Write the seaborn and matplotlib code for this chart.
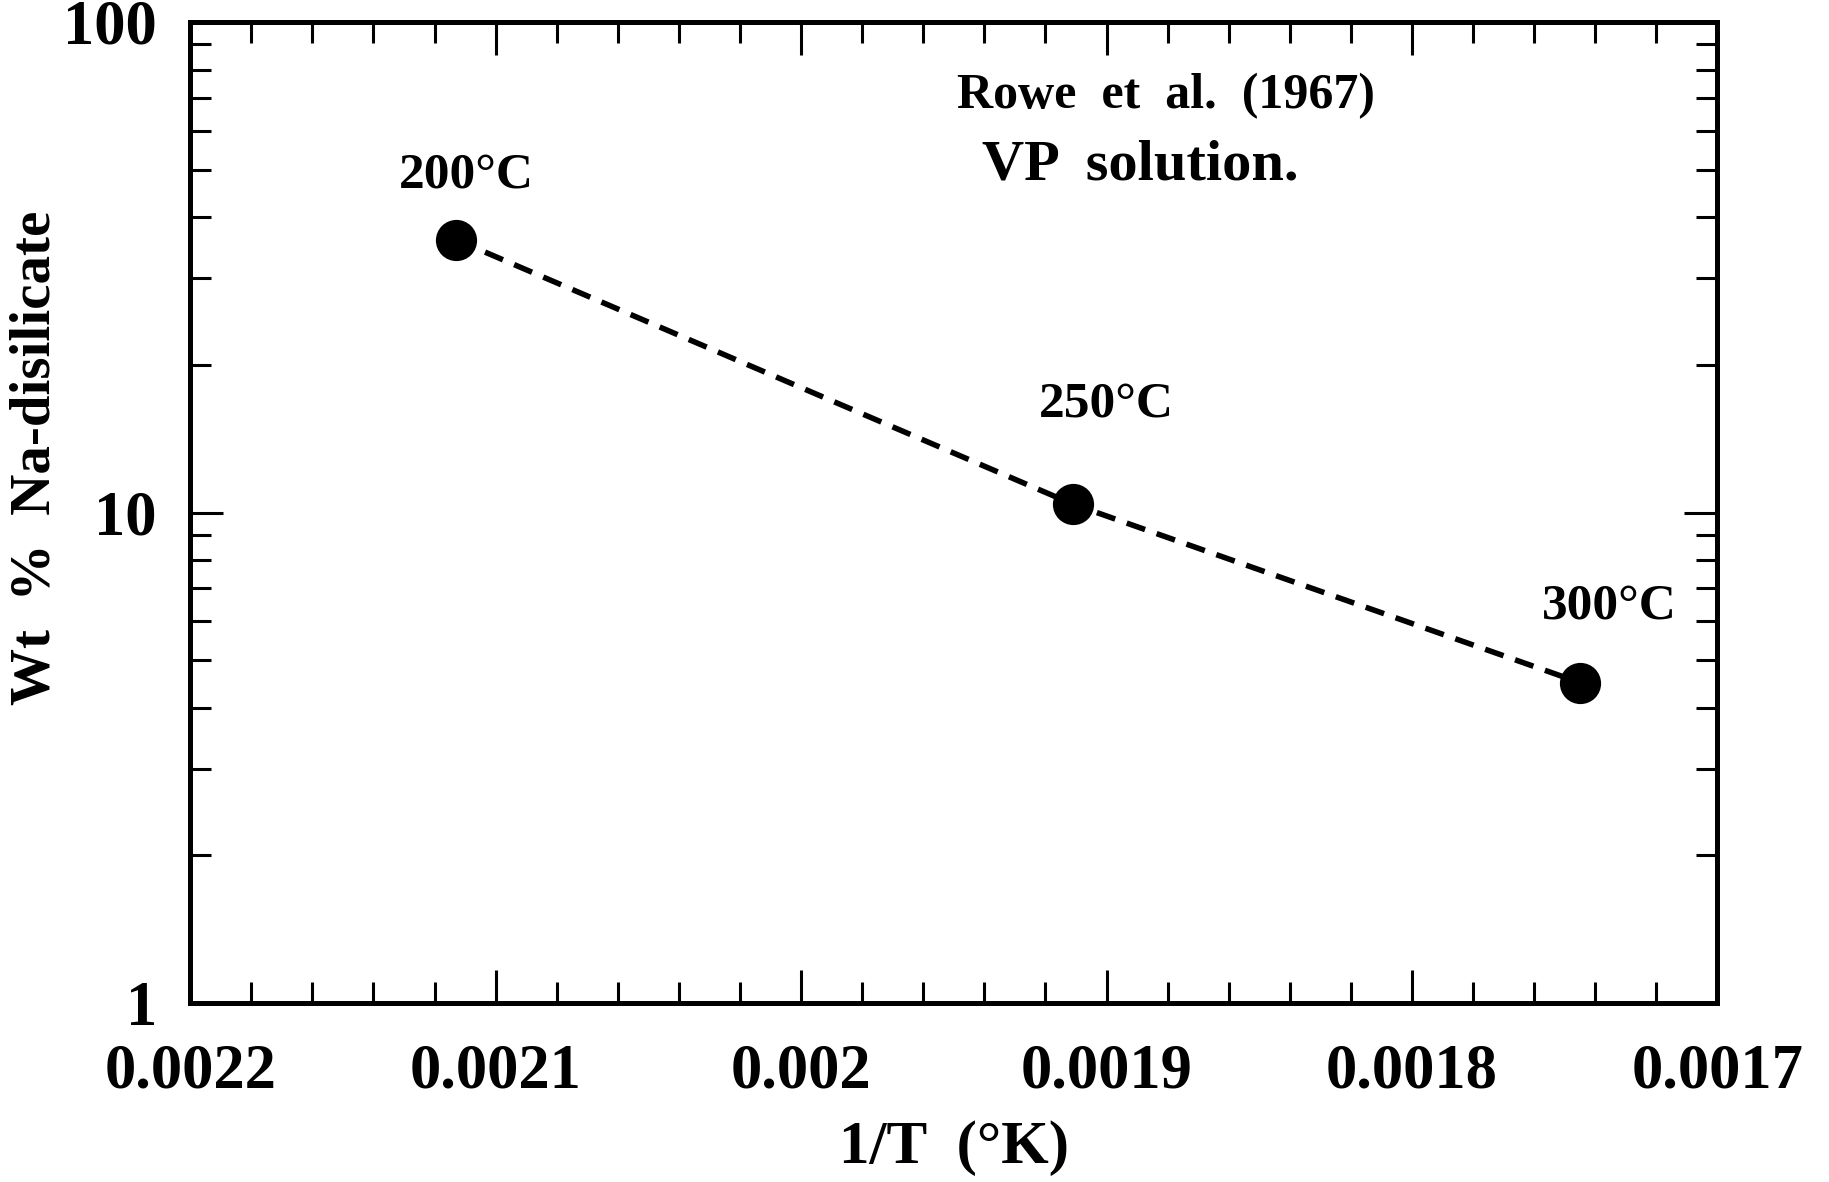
import numpy as np
import pandas as pd
import matplotlib
matplotlib.use('Agg')
import matplotlib.pyplot as plt
import matplotlib.ticker as mticker
import seaborn as sns

## DADOS
temp_c = [200, 250, 300]
inv_t = [0.002113, 0.001911, 0.001745]
wt_pct = [36.0, 10.4, 4.5]
temp_labels = ['200°C', '250°C', '300°C']
label_offsets = [(10, 64), (33, 100), (29, 76)]

x_ticks = [0.0022, 0.0021, 0.002, 0.0019, 0.0018, 0.0017]
y_ticks = [1, 10, 100]

df = pd.DataFrame({'inv_t': inv_t, 'wt': wt_pct, 'temp': temp_c})

sns.set_theme(style='ticks')
plt.rcParams['font.family'] = ['Liberation Serif', 'DejaVu Serif']
plt.rcParams['font.weight'] = 'bold'
plt.rcParams['text.color'] = 'black'
plt.rcParams['axes.labelcolor'] = 'black'

fig = plt.figure(figsize=(18.29, 11.82), dpi=100)
ax = fig.add_axes([0.104, 0.1514, 0.835, 0.830])

sns.lineplot(data=df, x='inv_t', y='wt', ax=ax, color='black', linewidth=4,
             linestyle=(0, (3.5, 2.2)), sort=False, legend=False)
sns.scatterplot(data=df, x='inv_t', y='wt', ax=ax, color='black', s=880,
                edgecolor='black', linewidth=0, legend=False, zorder=5)

ax.set_yscale('log')
ax.set_xlim(0.0022, 0.0017)
ax.set_ylim(1, 100)

## EIXOS
ax.set_xticks(x_ticks)
ax.xaxis.set_major_formatter(mticker.FuncFormatter(lambda v, p: f'{v:g}'))
ax.xaxis.set_minor_locator(mticker.MultipleLocator(0.00002))
ax.set_yticks(y_ticks)
ax.yaxis.set_major_formatter(mticker.FuncFormatter(lambda v, p: f'{v:g}'))
ax.yaxis.set_minor_locator(mticker.LogLocator(base=10, subs=np.arange(2, 10)))
ax.yaxis.set_minor_formatter(mticker.NullFormatter())

ax.tick_params(which='both', direction='in', top=True, right=True,
               colors='black', labelcolor='black')
ax.tick_params(which='major', length=24, width=2.2, labelsize=45)
ax.tick_params(which='minor', length=15, width=2.2)
ax.tick_params(axis='x', which='major', pad=29)
ax.tick_params(axis='y', which='major', pad=24)
for lab in ax.get_xticklabels() + ax.get_yticklabels():
    lab.set_fontweight('bold')
for s in ax.spines.values():
    s.set_linewidth(3.6)
    s.set_color('black')

ax.set_xlabel('1/T  (°K)', fontsize=44, fontweight='bold', va='center', ha='center')
ax.set_ylabel('Wt  %  Na-disilicate', fontsize=41, fontweight='bold', va='center', ha='center')
ax.xaxis.set_label_coords(0.5, -0.148)
ax.yaxis.set_label_coords(-0.101, 0.556)

## ANOTAÇÕES
for x, y, t, off in zip(inv_t, wt_pct, temp_labels, label_offsets):
    ax.annotate(t, (x, y), xytext=off, textcoords='offset pixels',
                ha='center', va='center', fontsize=37, fontweight='bold')

ax.text(0.639, 0.925, 'Rowe  et  al.  (1967)', transform=ax.transAxes,
        ha='center', va='center', fontsize=36, fontweight='bold')
ax.text(0.622, 0.854, 'VP  solution.', transform=ax.transAxes,
        ha='center', va='center', fontsize=42, fontweight='bold')

fig.savefig('out.png', dpi=100, facecolor='white')
